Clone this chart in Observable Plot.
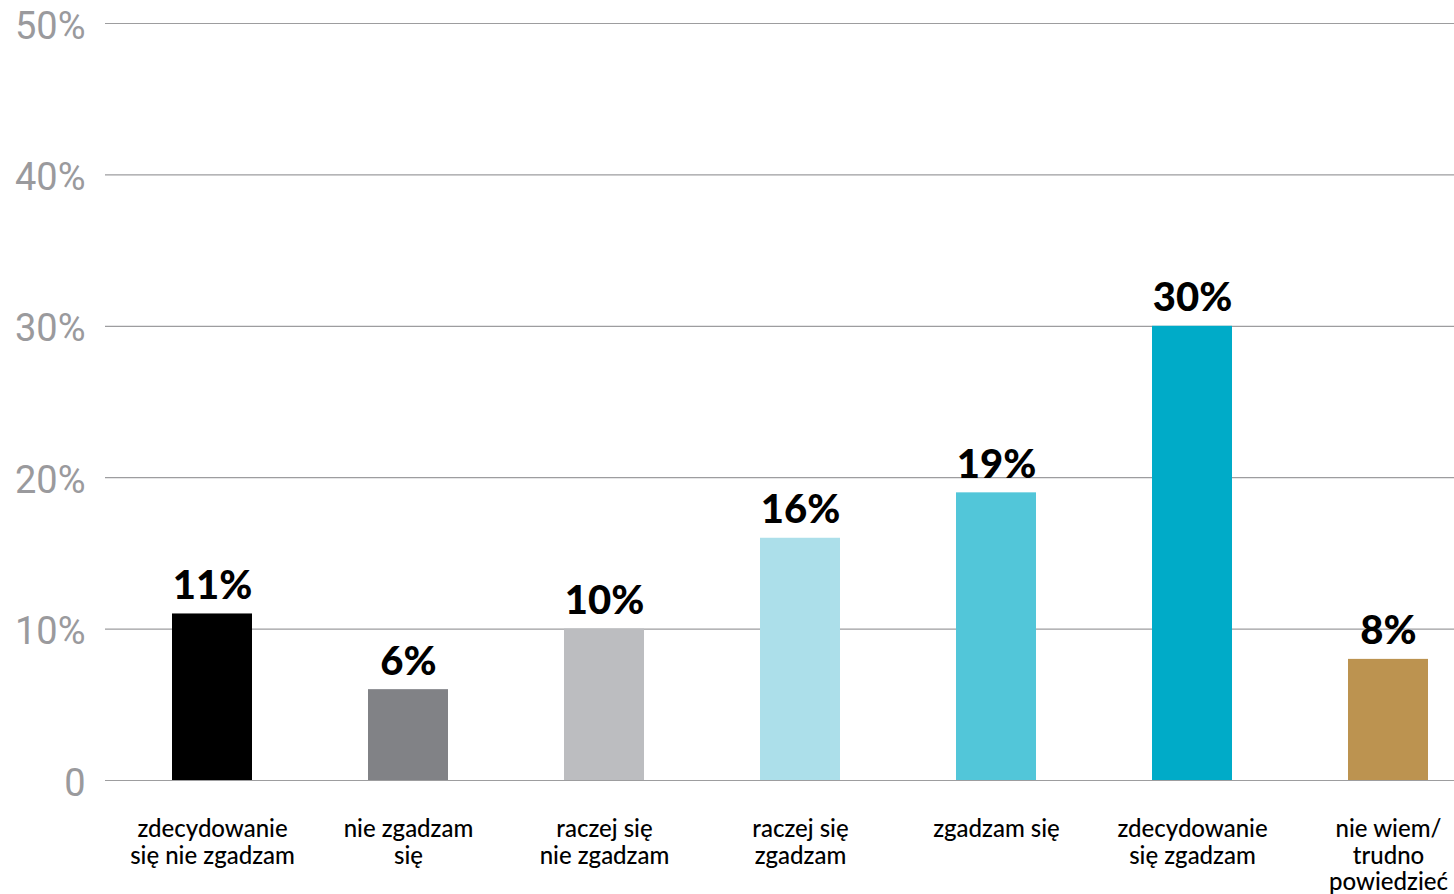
<!DOCTYPE html>
<html>
<head>
<meta charset="utf-8">
<script src="https://cdn.jsdelivr.net/npm/d3@7"></script>
<script src="https://cdn.jsdelivr.net/npm/@observablehq/plot@0.6"></script>
<style>
  html, body { margin: 0; padding: 0; background: #fff; }
  #chart svg { display: block; }
</style>
</head>
<body>
<div id="chart"></div>
<script>
const categories = [
  "zdecydowanie\nsię nie zgadzam",
  "nie zgadzam\nsię",
  "raczej się\nnie zgadzam",
  "raczej się\nzgadzam",
  "zgadzam się",
  "zdecydowanie\nsię zgadzam",
  "nie wiem/\ntrudno\npowiedzieć"
];
const values = [11, 6, 10, 16, 19, 30, 8];
const colors = ["#000000", "#818286", "#bcbdc0", "#acdfea", "#52c6d9", "#00abc8", "#bc9350"];
const yTicks = [0, 10, 20, 30, 40, 50];

const data = categories.map((c, i) => ({category: c, value: values[i], color: colors[i]}));

const chart = Plot.plot({
  width: 1454,
  height: 894,
  marginLeft: 105,
  marginRight: 0,
  marginTop: 23,
  marginBottom: 114,
  style: {background: "#fff"},
  x: {domain: categories, range: [170, 1430], paddingInner: 0.593, paddingOuter: 0},
  y: {domain: [0, 50]},
  marks: [
    Plot.ruleY(yTicks, {stroke: "#9d9d9f", strokeWidth: 1.2}),
    Plot.axisY({
      ticks: yTicks,
      tickSize: 0,
      tickPadding: 20,
      dy: 3,
      tickFormat: d => d === 0 ? "0" : d + "%",
      fontSize: 38,
      fill: "#9a9a9d",
      fontFamily: "Roboto, sans-serif",
      fontWeight: 400,
      label: null
    }),
    Plot.barY(data, {x: "category", y: "value", fill: "color"}),
    Plot.text(data, {
      x: "category", y: "value",
      text: d => d.value + "%",
      lineAnchor: "bottom",
      dy: -15,
      fontSize: 40,
      fontWeight: 900,
      fontFamily: "Lato, sans-serif",
      fill: "#000"
    }),
    Plot.axisX({
      tickSize: 0,
      tickPadding: 38,
      lineAnchor: "top",
      lineHeight: 1.1,
      fontSize: 24,
      fontFamily: "Lato, sans-serif",
      fontWeight: 500,
      fill: "#000",
      label: null
    })
  ]
});
document.getElementById("chart").appendChild(chart);
</script>
</body>
</html>
